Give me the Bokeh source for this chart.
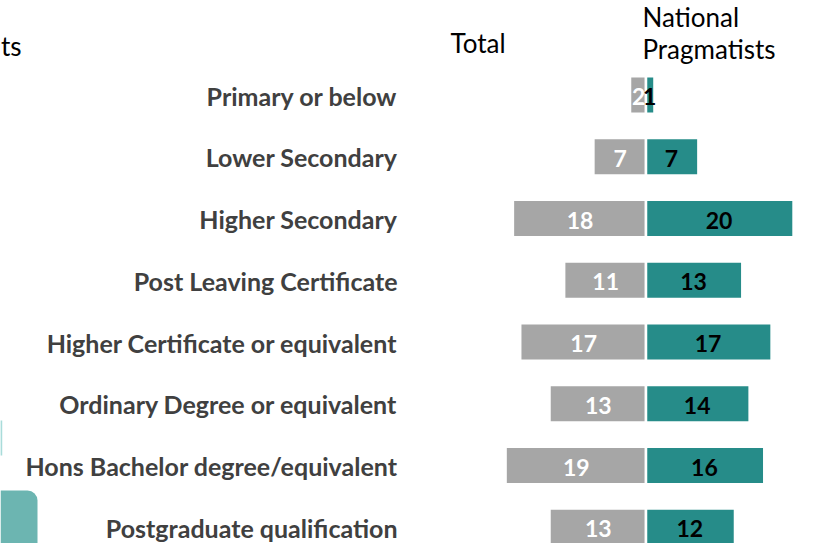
from bokeh.plotting import figure
from bokeh.models import Range1d, ColumnDataSource
from bokeh.core.properties import value
from bokeh.embed import file_html
from bokeh.resources import INLINE

categories = ["Primary or below", "Lower Secondary", "Higher Secondary",
              "Post Leaving Certificate", "Higher Certificate or equivalent",
              "Ordinary Degree or equivalent", "Hons Bachelor degree/equivalent",
              "Postgraduate qualification"]
total = [2, 7, 18, 11, 17, 13, 19, 13]
national_pragmatists = [1, 7, 20, 13, 17, 14, 16, 12]
header_total = "Total"
header_np = ["National", "Pragmatists"]
header_left = "ts"

PX = 7.32          # px per unit
X0 = 645.4         # frame x of zero
ROW = 61.75
Y0 = 94.5
W, H = 814, 543

x_start = -X0 / PX
x_end = (W - X0) / PX
y_top = -Y0 / ROW
y_bot = (H - Y0) / ROW


def sx(px):
    return (px - X0) / PX


def sy(py):
    return (py - Y0) / ROW


p = figure(width=W, height=H, output_backend="svg", toolbar_location=None,
           x_range=Range1d(x_start, x_end), y_range=Range1d(y_bot, y_top),
           min_border=0, outline_line_color=None)
p.xaxis.visible = False
p.yaxis.visible = False
p.xgrid.visible = False
p.ygrid.visible = False
p.background_fill_color = "white"
p.border_fill_color = "white"

ys = list(range(len(categories)))
gap = 1.35 / PX
bh = 35 / ROW
src = ColumnDataSource(dict(y=ys, cat=categories,
                            tl=[-v for v in total], tr=[-gap] * len(ys),
                            nl=[gap] * len(ys), nr=national_pragmatists,
                            tc=[-(v / 2) for v in total],
                            nc=[v / 2 for v in national_pragmatists],
                            ty=[y + 1.5 / ROW for y in ys],
                            tt=[str(v) for v in total],
                            nt=[str(v) for v in national_pragmatists]))

p.hbar(y="y", left="tl", right="tr", height=bh, source=src,
       fill_color="#A6A6A6", line_color=None)
p.hbar(y="y", left="nl", right="nr", height=bh, source=src,
       fill_color="#268C89", line_color=None)

FONT = value("Lato")
p.text(x="tc", y="ty", text="tt", source=src, text_color="white",
       text_font=FONT, text_font_style="bold", text_font_size="23px",
       text_align="center", text_baseline="middle")
p.text(x="nc", y="ty", text="nt", source=src, text_color="black",
       text_font=FONT, text_font_style="bold", text_font_size="23px",
       text_align="center", text_baseline="middle")

lab_x = sx(397)
p.text(x=[lab_x] * len(ys), y=[y + 0.5 / ROW for y in ys], text=categories,
       text_color="#404040", text_font=FONT, text_font_style="bold",
       text_font_size="25px", text_align="right", text_baseline="middle")

# headers
p.text(x=[sx(450)], y=[sy(42)], text=[header_total],
       text_color="black", text_font=FONT, text_font_size="26px",
       text_align="left", text_baseline="middle")
p.text(x=[sx(642)] * 2, y=[sy(16), sy(48)], text=header_np,
       text_color="black", text_font=FONT, text_font_size="26px",
       text_align="left", text_baseline="middle")
# remnant of a header at the far left
p.text(x=[sx(0.5)], y=[sy(45)], text=[header_left],
       text_color="black", text_font=FONT, text_font_size="26px",
       text_align="left", text_baseline="middle")

# decorative shapes at the left edge
p.quad(left=[x_start], right=[sx(37)], top=[sy(490)], bottom=[y_bot + 1],
       fill_color="#6CB5B1", line_color=None,
       border_radius={"top_left": 0, "top_right": 10, "bottom_right": 0, "bottom_left": 0})
p.segment(x0=[x_start + 0.1], y0=[sy(420)], x1=[x_start + 0.1], y1=[sy(455)],
          line_color="#A9DCDA", line_width=2)

open("out.html", "w").write(file_html(p, INLINE))
